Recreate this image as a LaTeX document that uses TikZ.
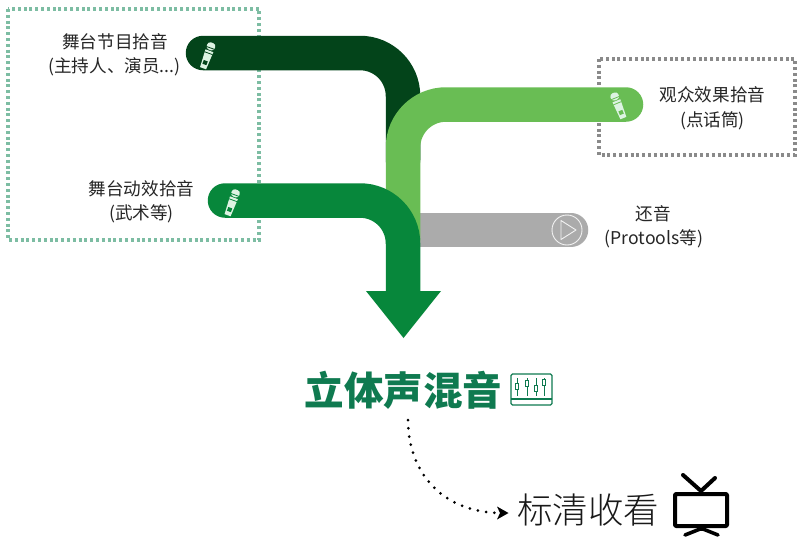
\documentclass[tikz,border=0pt]{standalone}
\usepackage{fontspec}
\setmainfont{Noto Sans CJK SC}
\newfontfamily\titlefont[BoldFont={Noto Sans CJK SC Black}]{Noto Sans CJK SC}
\newfontfamily\lightfont{Noto Sans CJK SC Light}
\usetikzlibrary{arrows.meta}
\definecolor{darkband}{HTML}{03441A}
\definecolor{lightband}{HTML}{69BD54}
\definecolor{midband}{HTML}{07873B}
\definecolor{grayband}{HTML}{ABABAB}
\definecolor{titlegreen}{HTML}{0F7A50}
\definecolor{boxgreen}{HTML}{7DBDA3}
\definecolor{boxgray}{HTML}{8A8A8A}
\definecolor{micwhite}{HTML}{DDF3E2}
\tikzset{
  band/.style={line width=34.5pt,line cap=round,rounded corners=43pt},
  dotbox/.style={line width=3.4pt,dash pattern=on 3pt off 2.8pt},
  lbl/.style={font=\fontsize{17.6}{21}\selectfont,text=black!85,inner sep=0pt,align=center},
  tvline/.style={line width=4pt,line cap=round,line join=round,black},
}
\newcommand{\micicon}[4]{%
  \begin{scope}[shift={(#1,#2)},rotate=#3]
    \fill[micwhite,rounded corners=3pt] (-4.2,-14) rectangle (4.2,-6.5);
    \fill[micwhite] (-4.2,-5.6) -- (4.2,-5.6) -- (3.2,13) -- (-3.2,13) -- cycle;
    \fill[#4] (-4.2,-9) rectangle (4.2,-8.2);
    \fill[#4] (-4.2,-3.4) rectangle (4.2,-2.6);
    \fill[#4] (-2.1,5) rectangle (2.1,9);
  \end{scope}}
\begin{document}
\begin{tikzpicture}[x=1pt,y=-1pt]
\useasboundingbox (0,0) rectangle (800,550);
\fill[white] (0,0) rectangle (800,550);
\draw[dotbox,boxgreen] (8,9) rectangle (259,240);
\draw[dotbox,boxgray] (599,59) rectangle (795,155);
\coordinate (dstart) at (203,53);
\coordinate (dcorner) at (403,53);
\coordinate (dend) at (403,160);
\coordinate (lstart) at (626,104.5);
\coordinate (lcorner) at (403,104.5);
\coordinate (lend) at (403,240);
\coordinate (mstart) at (225,200.5);
\coordinate (mcorner) at (403,200.5);
\coordinate (mend) at (403,292);
\coordinate (gstart) at (571,230);
\coordinate (gend) at (403,230);
\draw[band,grayband] (gstart) -- (gend);
\draw[band,darkband] (dstart) -- (dcorner) -- (dend);
\draw[band,lightband] (lstart) -- (lcorner) -- (lend);
\draw[band,midband] (mstart) -- (mcorner) -- (mend);
\fill[midband] (366,291) -- (441,291) -- (403.5,338) -- cycle;
\micicon{207.5}{56}{-20}{darkband}
\micicon{232}{203}{-20}{midband}
\micicon{618.5}{106}{22}{lightband}
\draw[white!90!gray,line width=0.9pt] (567,230) circle (15);
\draw[white!90!gray,line width=0.9pt,line join=round] (561,220.5) -- (561,239.5) -- (576,230) -- cycle;
\node[lbl] (a1) at (115,42) {舞台节目拾音};
\node[lbl] (a2) at (114.5,67) {(主持人、演员...)};
\node[lbl] (b1) at (141.5,189) {舞台动效拾音};
\node[lbl] (b2) at (141.5,214) {(武术等)};
\node[lbl] (c1) at (712.5,95) {观众效果拾音};
\node[lbl] (c2) at (712.5,120.5) {(点话筒)};
\node[lbl] (d1) at (653,214) {还音};
\node[lbl] (d2) at (654,238.5) {(Protools等)};
\node[inner sep=0pt,text=titlegreen,font=\titlefont\bfseries\fontsize{39.5}{42}\selectfont] (title) at (403.5,390) {立体声混音};
\node[inner sep=0pt,text=black!90,font=\lightfont\fontsize{35.5}{38}\selectfont] (sd) at (588,510) {标清收看};
% mixer icon
\draw[titlegreen,line width=1.2pt,rounded corners=1.5pt] (511,374) rectangle (552,405);
\draw[titlegreen,line width=1.2pt] (511,399) -- (552,399);
\foreach \sx/\ky in {517/386,527/383,536/388,544/382}{
  \draw[titlegreen,line width=0.9pt] (\sx,378) -- (\sx,396);
  \fill[white,draw=titlegreen,line width=0.9pt] (\sx-1.7,\ky-3) rectangle (\sx+1.7,\ky+3);
}
% dotted arrow
\coordinate (ds) at (408,420);
\coordinate (de) at (500,513);
\draw[black,line width=3pt,line cap=round,dash pattern=on 0pt off 8.3pt] (ds) .. controls (408,470) and (440,512) .. (de);
\fill[black] (497,506.5) -- (508.5,513) -- (497,519.5) -- (500,513) -- cycle;
% TV
\draw[tvline,rounded corners=1pt] (675,494) rectangle (727,526);
\draw[tvline] (683,475) -- (701,491) -- (715,478);
\draw[tvline,line width=3.6pt] (685,535) -- (700,529) -- (703,529) -- (718,535);
\end{tikzpicture}
\end{document}
